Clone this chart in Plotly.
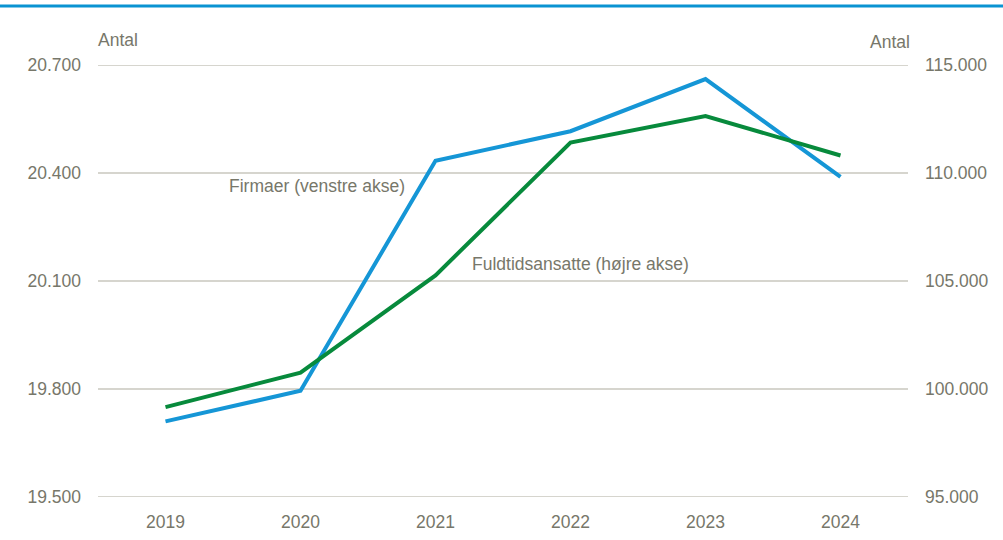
import plotly.graph_objects as go

years = ["2019", "2020", "2021", "2022", "2023", "2024"]
firmaer = [19710, 19795, 20434, 20516, 20661, 20389]
fuldtid = [99160, 100760, 105260, 111410, 112640, 110810]
left_ticks = [19500, 19800, 20100, 20400, 20700]
left_labels = ["19.500", "19.800", "20.100", "20.400", "20.700"]
right_ticks = [95000, 100000, 105000, 110000, 115000]
right_labels = ["95.000", "100.000", "105.000", "110.000", "115.000"]

FONT = "Liberation Sans Narrow, Arial Narrow, Liberation Sans, Arial"
TXT = "#77776a"
GRID = "#c9c7be"
BLUE = "#1596d6"
GREEN = "#078a3c"

fig = go.Figure()
fig.add_trace(go.Scatter(x=years, y=firmaer, mode="lines", name="Firmaer",
                         line=dict(color=BLUE, width=4), yaxis="y"))
fig.add_trace(go.Scatter(x=years, y=fuldtid, mode="lines", name="Fuldtidsansatte",
                         line=dict(color=GREEN, width=4), yaxis="y2"))

W, H = 1003, 540
ml, mr, mt, mb = 98, 95, 65, 43
pw = W - ml - mr
ph = H - mt - mb

grid_shapes = [dict(type="line", xref="paper", yref="y", x0=0, x1=1, y0=v, y1=v,
                    layer="below", line=dict(color=GRID, width=1.5))
               for v in left_ticks]

fig.update_layout(
    width=W, height=H,
    margin=dict(l=ml, r=mr, t=mt, b=mb, autoexpand=False),
    paper_bgcolor="white", plot_bgcolor="white",
    showlegend=False,
    font=dict(family=FONT, size=17.5, color=TXT),
    xaxis=dict(type="category", range=[-0.5, 5.5], showgrid=False, zeroline=False,
               showline=False, ticks="", ticklabelstandoff=12, automargin=False),
    yaxis=dict(range=[19500, 20700], tickvals=left_ticks, ticktext=left_labels,
               showgrid=False, zeroline=False, automargin=False,
               showline=False, ticks="", ticklabelstandoff=16),
    yaxis2=dict(range=[95000, 115000], tickvals=right_ticks, ticktext=right_labels,
                overlaying="y", side="right", showgrid=False, zeroline=False,
                automargin=False,
                showline=False, ticks="", ticklabelstandoff=16),
    shapes=grid_shapes + [dict(type="line", xref="paper", yref="paper",
                 x0=-ml / pw, x1=1 + mr / pw,
                 y0=1 + (mt - 6) / ph, y1=1 + (mt - 6) / ph,
                 line=dict(color="#0a93d2", width=3))],
    annotations=[
        dict(text="Antal", xref="paper", yref="paper", x=(118 - ml) / pw,
             y=1 + (mt - 40) / ph, showarrow=False, xanchor="center", yanchor="middle"),
        dict(text="Antal", xref="paper", yref="paper", x=(890 - ml) / pw,
             y=1 + (mt - 42) / ph, showarrow=False, xanchor="center", yanchor="middle"),
        dict(text="Firmaer (venstre akse)", xref="paper", yref="paper",
             x=(317 - ml) / pw, y=1 - (186 - mt) / ph, showarrow=False,
             xanchor="center", yanchor="middle"),
        dict(text="Fuldtidsansatte (højre akse)", xref="paper", yref="paper",
             x=(580 - ml) / pw, y=1 - (264 - mt) / ph, showarrow=False,
             xanchor="center", yanchor="middle"),
    ],
)

fig.write_html(
    "out.html",
    config={"displayModeBar": False},
    post_script=("document.documentElement.style.margin='0';"
                 "document.documentElement.style.overflow='hidden';"
                 "document.body.style.margin='0';document.body.style.padding='0';"
                 "document.body.style.overflow='hidden';"),
)
